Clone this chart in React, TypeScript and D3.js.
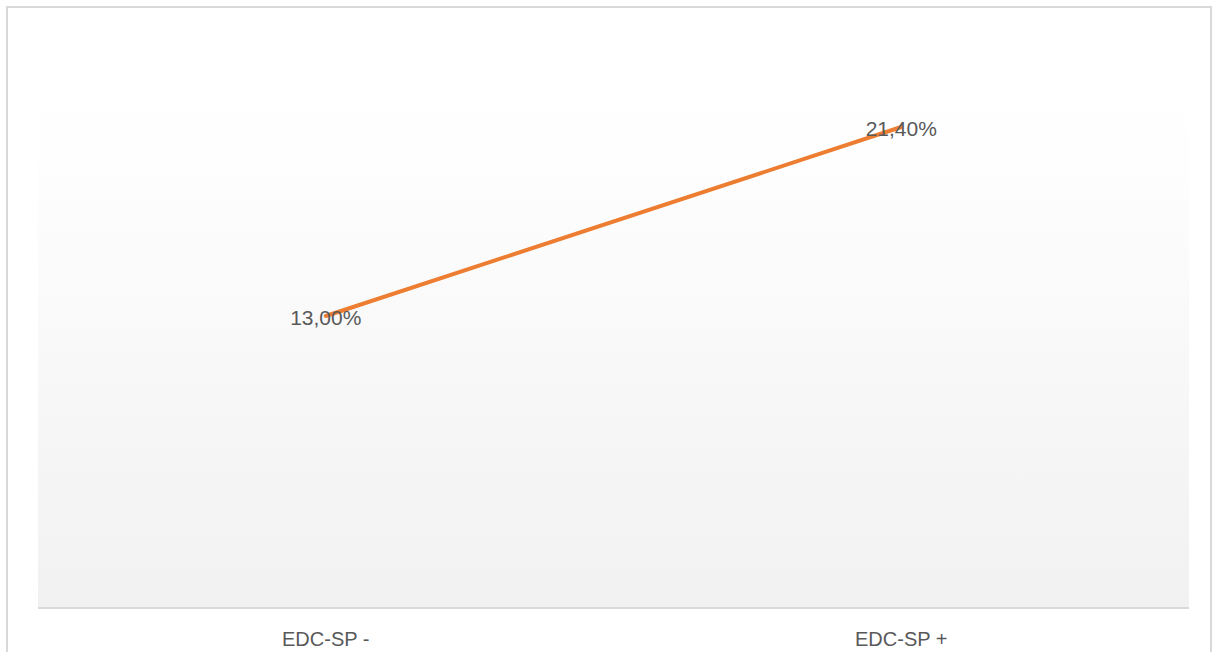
import * as d3 from 'd3';

const categories = ['EDC-SP -', 'EDC-SP +'];
const values = [0.13, 0.214];
const valueLabels = ['13,00%', '21,40%'];

const width = 1213;
const height = 652;
const plot = { left: 38, right: 1189, top: 46, bottom: 608.5 };

const App = () => {
  const xScale = d3
    .scalePoint<string>()
    .domain(categories)
    .range([plot.left, plot.right])
    .padding(0.5);
  const yScale = d3.scaleLinear().domain([0, 0.25]).range([plot.bottom, plot.top]);

  const line = d3
    .line<number>()
    .x((_, i) => xScale(categories[i]) || 0)
    .y(d => yScale(d));

  const font = '"Liberation Sans", Arial, sans-serif';

  return (
    <svg
      width={width}
      height={height}
      viewBox={`0 0 ${width} ${height}`}
      style={{ position: 'absolute', left: 0, top: 0, background: '#fff' }}
    >
      <defs>
        <linearGradient id="plotFill" x1="0" y1="0" x2="0" y2="1">
          <stop offset="0" stopColor="#ffffff" />
          <stop offset="0.2" stopColor="#fefefe" />
          <stop offset="1" stopColor="#f1f1f1" />
        </linearGradient>
      </defs>
      <rect x={7} y={7} width={1204} height={660} fill="#fff" stroke="#d9d9d9" strokeWidth={2} />
      <rect
        x={plot.left}
        y={plot.top}
        width={plot.right - plot.left}
        height={608 - plot.top}
        fill="url(#plotFill)"
      />
      <line x1={plot.left} x2={plot.right} y1={608} y2={608} stroke="#d9d9d9" strokeWidth={2} />
      <path d={line(values) || ''} fill="none" stroke="#ed7d31" strokeWidth={4} strokeLinecap="round" />
      {values.map((v, i) => (
        <text
          key={i}
          x={xScale(categories[i])}
          y={yScale(v)}
          dy="0.45em"
          textAnchor="middle"
          fontFamily={font}
          fontSize={21}
          fill="#595959"
        >
          {valueLabels[i]}
        </text>
      ))}
      {categories.map(c => (
        <text
          key={c}
          x={xScale(c)}
          y={646}
          textAnchor="middle"
          fontFamily={font}
          fontSize={20}
          fill="#595959"
        >
          {c}
        </text>
      ))}
    </svg>
  );
};

export default App;
